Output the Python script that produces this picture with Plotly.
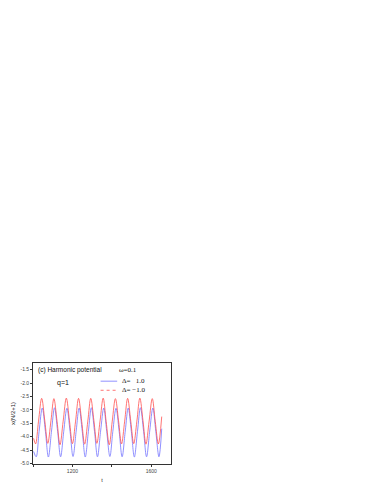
import plotly.graph_objects as go

# Delta = 1.0 (blue)
t_blue = [1003, 1016, 1031, 1047, 1063, 1078, 1094, 1109, 1125, 1140, 1156, 1172, 1188,
          1203, 1219, 1234, 1250, 1265, 1281, 1296, 1312, 1327, 1343, 1359, 1374, 1390,
          1405, 1421, 1437, 1452, 1468, 1483, 1499, 1514, 1530, 1545, 1561, 1576, 1592,
          1608, 1623, 1639, 1653]
x_blue = [-4.55, -4.75, -3.80, -2.93, -3.80, -4.76, -3.79, -2.92, -3.81, -4.75, -3.80, -2.94,
          -3.80, -4.74, -3.79, -2.93, -3.81, -4.76, -3.80, -2.92, -3.80, -4.75, -3.79, -2.93,
          -3.81, -4.74, -3.80, -2.94, -3.80, -4.75, -3.79, -2.93, -3.81, -4.76, -3.80, -2.92,
          -3.80, -4.75, -3.79, -2.93, -3.81, -4.75, -3.70]

# Delta = -1.0 (red)
t_red = [1003, 1013, 1028, 1044, 1060, 1075, 1091, 1106, 1122, 1137, 1153, 1169, 1185,
         1200, 1216, 1231, 1247, 1262, 1278, 1293, 1309, 1324, 1340, 1356, 1371, 1387,
         1402, 1418, 1434, 1449, 1465, 1480, 1496, 1511, 1527, 1542, 1558, 1573, 1589,
         1605, 1620, 1636, 1653]
x_red = [-4.06, -4.27, -3.42, -2.57, -3.42, -4.25, -3.41, -2.58, -3.43, -4.30, -3.42, -2.56,
         -3.41, -4.26, -3.42, -2.57, -3.43, -4.28, -3.42, -2.57, -3.41, -4.25, -3.42, -2.56,
         -3.43, -4.30, -3.42, -2.58, -3.41, -4.27, -3.42, -2.57, -3.43, -4.26, -3.42, -2.56,
         -3.41, -4.28, -3.42, -2.58, -3.43, -4.27, -3.25]

x_tickvals = [1000, 1200, 1400, 1600]
x_ticktext = ["", "1200", "", "1600"]
y_tickvals = [-1.5, -2.0, -2.5, -3.0, -3.5, -4.0, -4.5, -5.0]
y_ticktext = ["-1.5", "-2.0", "-2.5", "-3.0", "-3.5", "-4.0", "-4.5", "-5.0"]

BLUE = "rgb(115,115,255)"
RED = "rgb(255,80,80)"

fig = go.Figure()
fig.add_trace(go.Scatter(x=t_blue, y=x_blue, mode="lines",
                         line=dict(color=BLUE, width=0.8, shape="spline", smoothing=1.0),
                         showlegend=False))
fig.add_trace(go.Scatter(x=t_red, y=x_red, mode="lines",
                         line=dict(color=RED, width=0.8, shape="spline", smoothing=1.0),
                         showlegend=False))

axis_common = dict(showline=True, linecolor="#333", linewidth=0.8, mirror=True,
                   ticks="outside", ticklen=2, tickwidth=0.6, tickcolor="#333",
                   showgrid=False, zeroline=False, automargin=False,
                   tickfont=dict(family="Arial", size=5, color="#444"))

fig.update_xaxes(range=[1000, 1700], tickvals=x_tickvals, ticktext=x_ticktext,
                 title=dict(text="t", font=dict(family="Liberation Serif", size=6, color="#222"),
                            standoff=4),
                 **axis_common)
fig.update_yaxes(range=[-5.02, -1.25], tickvals=y_tickvals, ticktext=y_ticktext,
                 title=dict(text="x(N/2+1)", font=dict(family="Arial", size=6, color="#222"),
                            standoff=4),
                 **axis_common)

ann_font = dict(family="Arial", size=6.5, color="#111")
serif = dict(family="Liberation Serif", size=7, color="#111")
anns = [
    dict(x=0.025, y=0.93, text="(c) Harmonic potential", font=ann_font, xanchor="left"),
    dict(x=0.16, y=0.80, text="q=1", font=dict(family="Arial", size=7, color="#111"), xanchor="left"),
    dict(x=0.61, y=0.93, text="ω=0.1", font=serif, xanchor="left"),
    dict(x=0.63, y=0.82, text="Δ=   1.0", font=serif, xanchor="left"),
    dict(x=0.63, y=0.73, text="Δ= −1.0", font=serif, xanchor="left"),
]
for a in anns:
    fig.add_annotation(xref="paper", yref="paper", showarrow=False, yanchor="middle", **a)

# legend line samples
fig.add_shape(type="line", xref="paper", yref="paper", x0=0.49, x1=0.61, y0=0.82, y1=0.82,
              line=dict(color=BLUE, width=0.8))
fig.add_shape(type="line", xref="paper", yref="paper", x0=0.49, x1=0.61, y0=0.73, y1=0.73,
              line=dict(color=RED, width=0.8, dash="dot"))

# page body has an 8px default margin; size the figure to fit the window
fig.update_layout(width=374, height=486,
                  margin=dict(l=25, r=211, t=355, b=30),
                  paper_bgcolor="white", plot_bgcolor="white")

fig.write_html("out.html")
